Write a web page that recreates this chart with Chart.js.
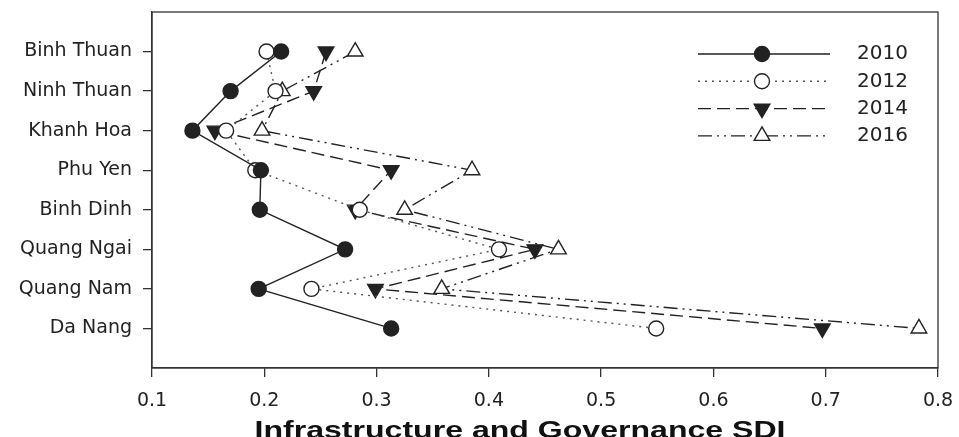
<!DOCTYPE html>
<html>
<head>
<meta charset="utf-8">
<script src="https://cdn.jsdelivr.net/npm/chart.js@4.4.1/dist/chart.umd.min.js"></script>
<style>
  html, body { margin: 0; padding: 0; background: #fff; }
  #wrap { width: 959px; height: 437px; }
</style>
</head>
<body>
<div id="wrap"><canvas id="sdiChart"></canvas></div>
<script>
// provinces, top to bottom
var provinces = ["Binh Thuan", "Ninh Thuan", "Khanh Hoa", "Phu Yen", "Binh Dinh", "Quang Ngai", "Quang Nam", "Da Nang"];
var years = ["2010", "2012", "2014", "2016"];
var sdi2010 = [0.215, 0.170, 0.136, 0.197, 0.196, 0.272, 0.195, 0.313];
var sdi2012 = [0.202, 0.210, 0.166, 0.192, 0.285, 0.409, 0.242, 0.549];
var sdi2014 = [0.255, 0.244, 0.156, 0.313, 0.281, 0.441, 0.299, 0.697];
var sdi2016 = [0.281, 0.216, 0.198, 0.385, 0.325, 0.462, 0.358, 0.783];
var xTicks = [0.1, 0.2, 0.3, 0.4, 0.5, 0.6, 0.7, 0.8];
var xTitle = "Infrastructure and Governance SDI";

var FONT = "'DejaVu Sans', 'Liberation Sans', Arial, sans-serif";
var INK = "#222";

function toPoints(vals) {
  return vals.map(function(v, i) { return {x: v, y: i}; });
}

var styles = [
  {dash: [], style: "circle", fill: INK, rot: 0, r: 7.5, line: INK},
  {dash: [2, 5], style: "circle", fill: "#fff", rot: 0, r: 7.5, line: "#555"},
  {dash: [13, 6], style: "triangle", fill: INK, rot: 180, r: 9, line: INK},
  {dash: [14, 5, 2, 5, 2, 5], style: "triangle", fill: "#fff", rot: 0, r: 9, line: INK}
];
var series = [sdi2010, sdi2012, sdi2014, sdi2016];

var datasets = series.map(function(vals, k) {
  var s = styles[k];
  return {
    label: years[k],
    data: toPoints(vals),
    showLine: true,
    borderColor: s.line,
    borderWidth: 1.4,
    borderDash: s.dash,
    pointStyle: s.style,
    pointRotation: s.rot,
    pointRadius: s.r,
    pointHoverRadius: s.r,
    pointBackgroundColor: s.fill,
    pointBorderColor: INK,
    pointBorderWidth: 1.4,
    fill: false
  };
});

// box round the plot, legend inside top right, wide bold axis title
var framePlugin = {
  id: "frame",
  afterDraw: function(chart) {
    var ctx = chart.ctx, a = chart.chartArea;
    ctx.save();
    ctx.strokeStyle = "#333";
    ctx.lineWidth = 1.3;
    ctx.setLineDash([]);
    ctx.strokeRect(a.left, a.top, a.right - a.left, a.bottom - a.top);

    var x0 = a.left + 546, x1 = a.left + 678, mx = a.left + 610, tx = a.left + 705;
    var y = a.top + 42;
    ctx.font = "20px " + FONT;
    ctx.textBaseline = "middle";
    ctx.textAlign = "left";
    styles.forEach(function(s, k) {
      ctx.strokeStyle = s.line;
      ctx.lineWidth = 1.4;
      ctx.setLineDash(s.dash);
      ctx.beginPath();
      ctx.moveTo(x0, y);
      ctx.lineTo(x1, y);
      ctx.stroke();
      ctx.setLineDash([]);
      ctx.fillStyle = s.fill;
      ctx.strokeStyle = INK;
      Chart.helpers.drawPoint(ctx, {pointStyle: s.style, rotation: s.rot, radius: s.r, borderWidth: 1.4}, mx, y);
      ctx.fillStyle = INK;
      ctx.fillText(years[k], tx, y);
      y += 27.3;
    });

    // title: stretched wider like the original, bottom slightly cut
    ctx.font = "bold 24px 'Liberation Sans', Arial, sans-serif";
    ctx.textAlign = "center";
    ctx.textBaseline = "alphabetic";
    var w = ctx.measureText(xTitle).width;
    var sx = 531 / w;
    var cx = (a.left + a.right) / 2 - 25;
    ctx.translate(cx, chart.height + 1);
    ctx.scale(sx, 1);
    ctx.fillStyle = "#111";
    ctx.fillText(xTitle, 0, 0);
    ctx.restore();
  }
};

var ctx = document.getElementById("sdiChart").getContext("2d");
var chart = new Chart(ctx, {
  type: "scatter",
  data: {datasets: datasets},
  options: {
    responsive: true,
    maintainAspectRatio: false,
    animation: false,
    layout: {padding: {top: 12, right: 21, left: 0, bottom: 0}},
    plugins: {legend: {display: false}, tooltip: {enabled: false}},
    scales: {
      x: {
        type: "linear",
        min: 0.1,
        max: 0.8,
        afterBuildTicks: function(scale) {
          scale.ticks = xTicks.map(function(v) { return {value: v}; });
        },
        afterFit: function(scale) {
          scale.height = 69;
          scale.paddingLeft = 0;
          scale.paddingRight = 0;
        },
        ticks: {
          color: INK,
          font: {family: FONT, size: 19},
          padding: 13,
          maxRotation: 0,
          callback: function(v) { return (Math.round(v * 10) / 10).toString(); }
        },
        grid: {display: true, drawOnChartArea: false, drawTicks: true, tickLength: 9, color: "#333", lineWidth: 1.3},
        border: {display: true, color: "#333", width: 1.3}
      },
      y: {
        type: "linear",
        min: -1,
        max: provinces.length,
        reverse: true,
        afterBuildTicks: function(scale) {
          scale.ticks = provinces.map(function(p, i) { return {value: i}; });
        },
        afterFit: function(scale) {
          scale.width = 152;
          scale.paddingTop = 0;
          scale.paddingBottom = 0;
        },
        ticks: {
          color: INK,
          font: {family: FONT, size: 19},
          padding: 11,
          callback: function(v) { return provinces[v]; }
        },
        grid: {display: true, drawOnChartArea: false, drawTicks: true, tickLength: 9, color: "#333", lineWidth: 1.3},
        border: {display: true, color: "#333", width: 1.3}
      }
    }
  },
  plugins: [framePlugin]
});
</script>
</body>
</html>
